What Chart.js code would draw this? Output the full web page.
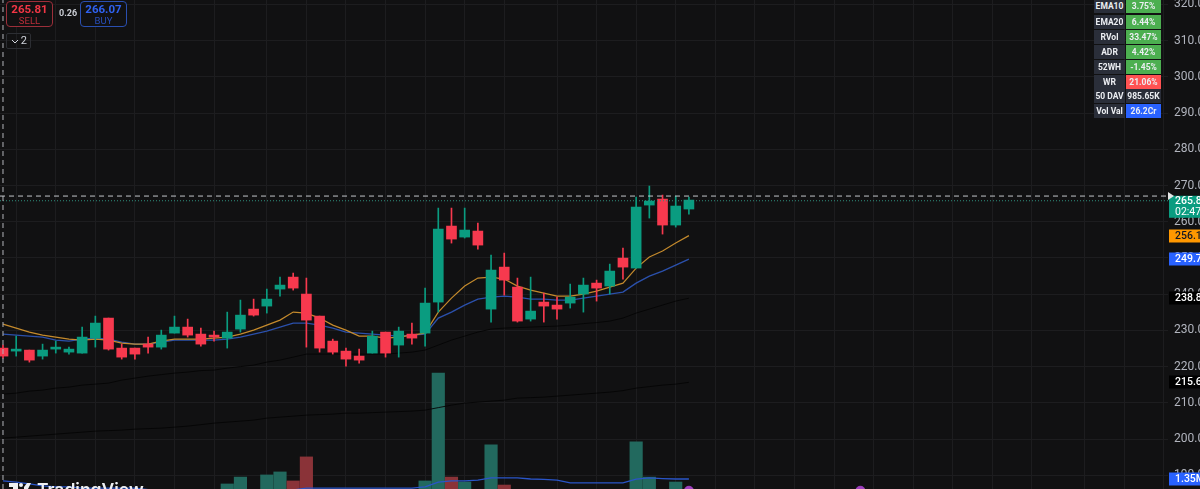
<!DOCTYPE html>
<html>
<head>
<meta charset="utf-8">
<title>Price chart</title>
<script src="https://cdn.jsdelivr.net/npm/chart.js@4"></script>
<style>
  html, body { margin: 0; padding: 0; background: #111112; }
  #wrap { position: relative; width: 1200px; height: 489px; overflow: hidden; font-family: Roboto, "Noto Sans", sans-serif; }
  canvas { position: absolute; left: 0; top: 0; }
  .order { position: absolute; top: 1px; width: 45px; height: 24px; border: 1px solid; border-radius: 4px; text-align: center; background: #111112; }
  .order b { display: block; font-size: 11.5px; line-height: 13px; margin-top: 1px; }
  .order span { display: block; font-size: 9.5px; line-height: 10px; opacity: .75; }
  #sell { left: 6px; border-color: #9c2f3a; color: #f23645; }
  #buy { left: 80px; border-color: #2a4fb0; color: #2f62f0; }
  #spread { position: absolute; left: 59px; top: 8px; font-size: 9px; font-weight: 700; color: #c9ccd3; }
  #lots { position: absolute; left: 6px; top: 33px; width: 23px; height: 14px; border: 1px solid #2c2e33; border-radius: 2px; color: #d1d4dc; font-size: 11px; line-height: 14px; text-align: right; }
  #lots i { font-style: normal; padding-right: 3px; }
  #lots svg { position: absolute; left: 4px; top: 5px; width: 8px; height: 5px; }
  .cell { position: absolute; font-size: 8.5px; font-weight: 700; color: #eceef2; text-align: center; height: 14px; line-height: 14px; }
  #logo { position: absolute; left: 9px; top: 482px; width: 22px; height: 7px; }
  #brand { position: absolute; left: 37px; top: 479px; font-family: Inter, Roboto, sans-serif; font-size: 17.5px; font-weight: 600; line-height: 22px; color: #eef0f3; }
</style>
</head>
<body>
<div id="wrap">
  <canvas id="chart" width="1200" height="489"></canvas>
  <div class="order" id="sell"><b>265.81</b><span>SELL</span></div>
  <div id="spread">0.26</div>
  <div class="order" id="buy"><b>266.07</b><span>BUY</span></div>
  <div id="lots"><svg viewBox="0 0 8 5"><path d="M1 1l3 3 3-3" fill="none" stroke="#d1d4dc" stroke-width="1"/></svg><i>2</i></div>
  <div id="stats"></div>
  <svg id="logo" viewBox="0 0 22 7"><path d="M0 1h9v6H4V5H0z M15 5l3-4h4l-3 6h-4z" fill="#eef0f3"/><circle cx="12" cy="3" r="2" fill="#eef0f3"/></svg>
  <div id="brand">TradingView</div>
</div>

<script>
const opens = [225.11,224.28,224.56,222.90,224.83,224.00,223.73,227.87,233.40,225.11,225.11,226.21,225.38,229.25,230.91,228.98,228.70,227.87,230.36,235.88,236.71,241.41,244.72,240.03,233.95,227.04,224.28,222.90,223.73,229.53,225.94,228.98,229.25,237.82,258.81,255.77,257.43,235.88,247.48,241.96,233.12,237.82,236.99,237.54,240.03,243.06,242.24,249.97,247.21,264.61,266.27,259.09,263.51]
const highs = [225.94,228.42,224.56,226.21,227.04,225.38,230.91,233.95,233.40,226.21,225.11,228.15,230.08,233.95,233.12,230.63,229.80,235.05,238.37,238.64,241.41,244.72,245.83,244.45,233.95,227.59,225.11,224.83,229.80,229.53,230.91,232.02,241.68,263.78,263.78,263.78,259.64,250.80,251.35,244.45,244.72,240.30,239.20,242.79,244.45,243.89,248.31,252.73,266.82,269.86,267.37,267.10,266.82]
const lows = [222.35,222.90,221.24,222.07,223.73,223.45,223.73,225.38,224.56,222.07,222.07,223.73,224.83,229.25,228.15,225.66,227.04,225.11,229.53,233.95,234.78,239.47,241.13,225.38,224.00,223.45,220.13,220.96,223.73,222.62,222.62,226.21,225.66,235.05,254.11,255.50,252.46,232.29,239.75,232.29,232.57,232.29,233.12,236.16,235.05,238.09,240.03,244.17,247.21,261.02,256.60,258.53,262.12]
const closes = [222.90,224.56,221.79,224.56,225.38,224.83,228.15,232.02,224.83,222.62,223.45,225.38,228.70,230.91,228.70,226.21,228.15,229.53,234.22,234.22,238.64,242.51,241.68,232.84,225.11,224.00,222.07,221.79,228.42,223.73,229.80,227.87,237.54,257.98,255.22,257.71,253.56,246.66,243.89,232.57,235.33,236.71,235.88,239.20,242.51,241.68,246.38,247.48,264.06,265.72,259.09,264.34,265.99]
const volumes = [.6,.55,.5,.5,.45,.5,.5,.6,.7,.6,.5,.5,.6,.7,.6,.6,.6,1.12,1.44,.8,1.54,1.68,1.26,2.38,.85,.7,.6,.5,.7,.6,.7,.8,1.26,6.29,1.44,1.21,.85,2.94,1.07,.8,.7,.6,.5,.6,.7,.6,.8,.85,3.08,1.44,.85,1.21,.8]

const ema10 = [231.74,230.63,229.53,228.70,228.15,227.59,227.32,227.59,227.32,226.49,226.21,226.21,227.04,227.59,227.59,227.59,227.87,228.15,228.98,230.08,231.46,232.84,235.05,234.78,233.40,231.46,230.08,228.42,228.42,227.87,228.15,228.70,229.25,235.05,238.92,242.24,244.45,244.72,244.17,242.24,241.13,240.30,239.47,239.47,240.03,240.85,241.96,243.06,247.21,250.25,251.90,254.11,256.17]
const ema20 = [228.98,228.70,228.42,228.15,227.32,227.04,227.59,227.87,227.59,226.77,226.21,226.21,226.77,227.32,227.32,227.32,227.32,227.59,228.15,228.98,229.80,230.91,232.02,232.02,231.46,230.63,229.53,229.25,228.98,228.70,228.42,228.70,228.98,233.40,235.05,236.99,238.64,239.20,239.47,239.20,238.64,238.64,238.37,238.37,238.92,239.47,240.03,240.58,243.06,245.00,246.38,248.04,249.71]
const sma50 = [212.40,212.68,213.23,213.51,214.06,214.34,214.89,215.16,215.44,216.27,216.82,217.37,217.79,218.20,218.48,218.90,219.03,219.58,220.00,220.41,221.24,221.79,222.62,223.45,223.45,223.45,223.45,223.45,223.45,223.45,223.73,224.00,224.56,225.94,227.32,228.42,229.53,230.36,230.63,230.77,230.91,231.05,231.19,231.46,231.88,232.16,232.57,233.40,234.78,235.88,236.99,238.09,238.89]
const sma200 = [200.25,200.52,200.80,201.07,201.35,201.63,201.90,202.18,202.32,202.46,202.73,202.87,203.01,203.28,203.56,203.97,204.39,204.67,204.94,205.22,205.77,206.05,206.32,206.60,206.74,206.88,207.15,207.15,207.29,207.43,207.57,207.71,207.98,208.67,209.36,209.92,210.19,210.47,210.74,211.30,211.43,211.57,211.85,212.12,212.40,212.68,212.95,213.37,214.06,214.47,214.89,215.16,215.66]
const volumeMa = [1.26,1.21,1.12,1.03,.98,.98,.93,.93,.93,.93,.93,.86,.79,.79,.79,.79,.79,.79,.79,.79,.79,.79,.84,.93,.93,.93,.93,.93,.93,.93,.93,.93,.98,1.21,1.26,1.26,1.30,1.40,1.40,1.40,1.35,1.33,1.30,1.17,1.17,1.17,1.17,1.17,1.35,1.40,1.37,1.35,1.35]

const priceTicks = [320,310,300,290,280,270,260,250,240,230,220,210,200,190]
const gridBars = [1,4,7,10,13,16,20,23,26,29,32,35,38,42,45,48,51,54,57,60,63,66,69,72,75,78,82,85,88]
const markerBars = [52,65]
const markerVolumes = [.8,.8]

const lastPrice = 265.80
const countdown = '02:47:1'
const crosshairPrice = 267.10
const crosshairBar = 0

const statNames = ['EMA10','EMA20','RVol','ADR','52WH','WR','50 DAV','Vol Val']
const statValues = ['3.75%','6.44%','33.47%','4.42%','-1.45%','21.06%','985.65K','26.2Cr']

const UP = '#0a9c80', DOWN = '#f7394e'
const BG = '#111112'

const xMin = -0.2274, xMax = 88.32
const priceMin = 186.2, priceMax = 321.24
const volMin = 0.885, volMax = 23.67

const statBg = { WR: '#ff5252', '50 DAV': '#2a2e39', 'Vol Val': '#2962ff' }
const stats = document.getElementById('stats')
statNames.forEach((name, i) => {
  const top = i === 0 ? -1 : 14.9 * i
  const left = document.createElement('div')
  left.className = 'cell'
  left.style.cssText = `left:1094px;width:31px;top:${top}px;background:#2a2e39`
  left.textContent = name
  const right = document.createElement('div')
  right.className = 'cell'
  right.style.cssText = `left:1126px;width:35px;top:${top}px;background:${statBg[name] || '#4caf50'}`
  right.textContent = statValues[i]
  stats.appendChild(left)
  stats.appendChild(right)
})

const points = arr => arr.map((v, i) => ({ x: i, y: v }))
const candleColors = closes.map((c, i) => c >= opens[i] ? UP : DOWN)
const volumeColors = closes.map((c, i) => c >= opens[i] ? '#22695e' : '#8a3338')

function maLine(data, color, width, yAxisID, order) {
  return { type: 'line', data: points(data), borderColor: color, borderWidth: width, pointRadius: 0, tension: 0, yAxisID, order }
}

function guide(data, color, dash, order) {
  return { type: 'line', data, borderColor: color, borderWidth: 1, borderDash: dash, pointRadius: 0, tension: 0, yAxisID: 'y', order }
}

// price tags on the right axis, same place TradingView puts them
const tagsPlugin = {
  id: 'tags',
  afterDraw(chart) {
    const { ctx, scales } = chart
    const left = chart.chartArea.right + 1
    const tag = (val, axis, bg, fg, text) => {
      const y = Math.round(scales[axis].getPixelForValue(val))
      ctx.fillStyle = bg
      ctx.fillRect(left, y - 6.5, 31, 13)
      ctx.fillStyle = fg
      ctx.font = '500 10.5px Roboto'
      ctx.textAlign = 'left'
      ctx.textBaseline = 'middle'
      ctx.fillText(text, left + 6, y + 0.5)
    }
    tag(ema10[ema10.length - 1], 'y', '#ff9800', '#131722', ema10[ema10.length - 1].toFixed(2))
    tag(ema20[ema20.length - 1], 'y', '#2962ff', '#ffffff', ema20[ema20.length - 1].toFixed(2))
    tag(sma50[sma50.length - 1], 'y', '#000000', '#ffffff', sma50[sma50.length - 1].toFixed(2))
    tag(sma200[sma200.length - 1], 'y', '#000000', '#ffffff', sma200[sma200.length - 1].toFixed(2))
    tag(volumeMa[volumeMa.length - 1], 'y2', '#2962ff', '#ffffff', volumeMa[volumeMa.length - 1].toFixed(2) + 'M')

    // last price box with the countdown under it
    const y = scales.y.getPixelForValue(lastPrice)
    ctx.fillStyle = '#0a9c80'
    ctx.fillRect(left, y - 5, 31, 22)
    ctx.fillStyle = '#ffffff'
    ctx.fillText(lastPrice.toFixed(2), left + 6, y + 1)
    ctx.font = '10.5px Roboto'
    ctx.fillText(countdown, left + 6, y + 12)

    // crosshair arrow
    const cy = scales.y.getPixelForValue(crosshairPrice)
    ctx.fillStyle = '#e6e6e6'
    ctx.beginPath()
    ctx.moveTo(left - 1, cy - 4)
    ctx.lineTo(left + 5, cy)
    ctx.lineTo(left - 1, cy + 4)
    ctx.closePath()
    ctx.fill()
  }
}

const bgPlugin = {
  id: 'bg',
  beforeDraw(chart) {
    chart.ctx.fillStyle = BG
    chart.ctx.fillRect(0, 0, chart.width, chart.height)
  }
}

new Chart(document.getElementById('chart').getContext('2d'), {
  data: {
    datasets: [
      { type: 'bar', data: points(volumes), backgroundColor: volumeColors, barThickness: 12.5, grouped: false, yAxisID: 'y2', order: 9 },
      { type: 'line', data: points(volumeMa), borderColor: '#2a55c8', borderWidth: 1.3, pointRadius: 0, tension: 0, yAxisID: 'y2', order: 8 },
      { type: 'scatter', data: markerBars.map((b, i) => ({ x: b, y: markerVolumes[i] })), backgroundColor: '#a040c0', pointRadius: 5, yAxisID: 'y2', order: 7 },
      maLine(sma200, '#050505', 0.9, 'y', 6),
      maLine(sma50, '#050505', 0.9, 'y', 6),
      maLine(ema20, '#2b50ab', 1.4, 'y', 5),
      maLine(ema10, '#c48a2c', 1.2, 'y', 4),
      { type: 'bar', data: closes.map((c, i) => ({ x: i, y: [lows[i], highs[i]] })), backgroundColor: candleColors, barThickness: 1, grouped: false, yAxisID: 'y', order: 3 },
      { type: 'bar', data: closes.map((c, i) => ({ x: i, y: [opens[i], c] })), backgroundColor: candleColors, barThickness: 10, minBarLength: 2, grouped: false, yAxisID: 'y', order: 2 },
      guide([{ x: xMin, y: lastPrice }, { x: xMax, y: lastPrice }], '#2f8f7e', [1, 2], 1),
      guide([{ x: xMin, y: crosshairPrice }, { x: xMax, y: crosshairPrice }], '#c4c6cb', [5, 4], 0),
      guide([{ x: crosshairBar, y: priceMin }, { x: crosshairBar, y: priceMax }], '#b4b6bb', [5, 4], 0)
    ]
  },
  options: {
    responsive: false,
    animation: false,
    layout: { padding: 0, autoPadding: false },
    plugins: { legend: { display: false }, tooltip: { enabled: false } },
    scales: {
      x: {
        type: 'linear',
        offset: false,
        min: xMin,
        max: xMax,
        afterBuildTicks: axis => { axis.ticks = gridBars.map(v => ({ value: v })) },
        afterFit: axis => { axis.height = 0; axis.paddingLeft = 0; axis.paddingRight = 0 },
        grid: { color: '#1d1d1f', lineWidth: 1, drawTicks: false, offset: false },
        border: { display: false },
        ticks: { display: false, autoSkip: false, padding: 0 }
      },
      y: {
        position: 'right',
        min: priceMin,
        max: priceMax,
        afterBuildTicks: axis => { axis.ticks = priceTicks.map(v => ({ value: v })) },
        afterFit: axis => { axis.width = 32; axis.paddingTop = 0; axis.paddingBottom = 0 },
        grid: { color: '#1d1d1f', lineWidth: 1, drawTicks: false },
        border: { display: false },
        ticks: {
          autoSkip: false,
          padding: 6,
          color: '#b2b5be',
          font: { family: 'Roboto', size: 12 },
          callback: v => v.toFixed(2)
        }
      },
      y2: { display: false, min: volMin, max: volMax }
    }
  },
  plugins: [bgPlugin, tagsPlugin]
})
</script>
</body>
</html>
